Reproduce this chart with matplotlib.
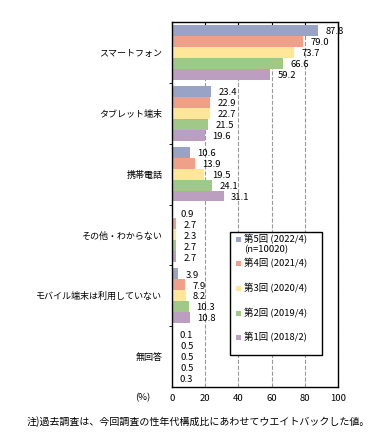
import matplotlib
matplotlib.use('Agg')
import matplotlib.pyplot as plt
from matplotlib.patches import Rectangle
import numpy as np

plt.rcParams['font.family'] = ['Noto Sans CJK JP', 'DejaVu Sans']

categories = ['スマートフォン', 'タブレット端末', '携帯電話', 'その他・わからない',
              'モバイル端末は利用していない', '無回答']
series_labels = ['第5回 (2022/4)', '第4回 (2021/4)', '第3回 (2020/4)',
                 '第2回 (2019/4)', '第1回 (2018/2)']
n_label = '(n=10020)'
values = [
    [87.8, 23.4, 10.6, 0.9, 3.9, 0.1],
    [79.0, 22.9, 13.9, 2.7, 7.9, 0.5],
    [73.7, 22.7, 19.5, 2.3, 8.2, 0.5],
    [66.6, 21.5, 24.1, 2.7, 10.3, 0.5],
    [59.2, 19.6, 31.1, 2.7, 10.8, 0.3],
]
colors = ['#99a3c6', '#eea08a', '#ffe699', '#a0c889', '#bb9ec0']
xticks = [0, 20, 40, 60, 80, 100]

W, H = 379, 447
fig = plt.figure(figsize=(W / 100, H / 100), dpi=100)
ax = fig.add_axes([172 / W, 1 - 387 / H, 166 / W, 365 / H])

bar_h = 0.18
y = np.arange(len(categories))
for i, vals in enumerate(values):
    pos = y - 2 * bar_h + i * bar_h
    ax.barh(pos, vals, height=bar_h, color=colors[i])
    for p, v in zip(pos, vals):
        ax.text(v + 4.5, p + 0.02, f'{v:.1f}', va='center', ha='left', fontsize=6.8)

ax.set_ylim(len(categories) - 0.5, -0.5)
ax.set_xlim(0, 100)
ax.set_yticks(y)
ax.set_yticklabels(categories, fontsize=6.5)
ax.tick_params(axis='y', length=0, pad=7)
ax.set_yticks(np.arange(len(categories) - 1) + 0.5, minor=True)
ax.tick_params(axis='y', which='minor', length=2, direction='out')
ax.set_xticks(xticks)
ax.set_xticklabels([str(t) for t in xticks], fontsize=6.8)
ax.tick_params(axis='x', length=4, direction='in', top=True, bottom=False, pad=5)
ax.grid(axis='x', color='#999999', linestyle='--', linewidth=0.8)
ax.set_axisbelow(True)
for s in ax.spines.values():
    s.set_linewidth(1.0)

fig.text(143 / W, 1 - 398 / H, '(%)', ha='center', va='center', fontsize=6.8)
fig.text(27 / W, 1 - 422 / H,
         '注)過去調査は、今回調査の性年代構成比にあわせてウエイトバックした値。',
         ha='left', va='center', fontsize=7.2)

# legend box drawn by hand
fig.patches.append(Rectangle((230 / W, 1 - 355 / H), 92 / W, 123 / H,
                             transform=fig.transFigure, facecolor='white',
                             edgecolor='black', linewidth=1.0, zorder=5))
entry_y = [239, 263, 288, 313, 337]
for c, lab, ey in zip(colors, series_labels, entry_y):
    fig.patches.append(Rectangle((236 / W, 1 - (ey + 2.5) / H), 5 / W, 5 / H,
                                 transform=fig.transFigure, facecolor=c,
                                 edgecolor='none', zorder=6))
    fig.text(244 / W, 1 - ey / H, lab, ha='left', va='center', fontsize=6.8, zorder=6)
fig.text(244 / W, 1 - 250 / H, n_label, ha='left', va='center', fontsize=6.8, zorder=6)

fig.savefig('out.png', dpi=100)
